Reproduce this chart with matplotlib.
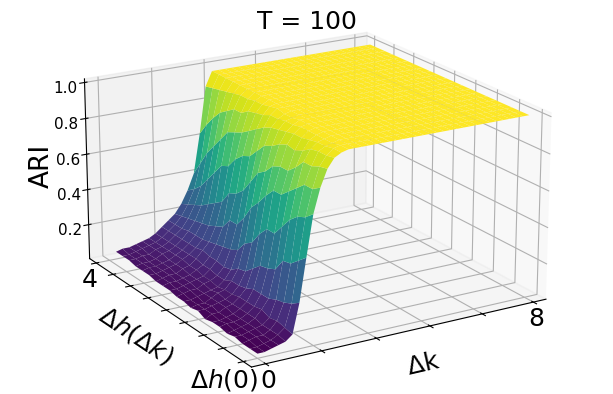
import numpy as np
import matplotlib
matplotlib.use("Agg")
import matplotlib.pyplot as plt
from mpl_toolkits.mplot3d import Axes3D

delta_k_rise = [0.0,0.2,0.4,0.6,0.8,1.0,1.2,1.4,1.6,1.8,2.0,2.2,2.4,2.6,2.8,3.0]
delta_k_plateau = [3.2,3.4,3.6,3.8,4.0,4.2,4.4,4.6,4.8,5.0,5.2,5.4,5.6,5.8,6.0,6.2,6.4,6.6,6.8,7.0,7.2,7.4,7.6,7.8,8.0]
delta_h = [0.0,0.19,0.38,0.57,0.76,0.95,1.14,1.33,1.52,1.71,1.9,2.09,2.28,2.47,2.66,2.85,3.04,3.23,3.42,3.61,3.8]
plateau_ari = 1.0
# rows: delta_h, columns: delta_k_rise
ari_rise = [
[.03,.03,.04,.05,.06,.09,.25,.48,.70,.83,.92,.97,.99,1.0,1.0,1.0],
[.03,.03,.04,.05,.07,.10,.22,.44,.66,.80,.91,.96,.99,1.0,1.0,1.0],
[.03,.04,.05,.05,.07,.11,.20,.40,.64,.80,.89,.96,.98,.99,1.0,1.0],
[.04,.04,.05,.06,.07,.10,.19,.39,.60,.76,.89,.95,.98,.99,1.0,1.0],
[.03,.04,.05,.06,.08,.12,.17,.32,.54,.72,.84,.92,.97,.99,1.0,1.0],
[.04,.05,.05,.06,.08,.11,.17,.30,.48,.68,.80,.90,.96,.99,1.0,1.0],
[.04,.04,.05,.06,.08,.11,.17,.29,.48,.68,.80,.91,.96,.99,1.0,1.0],
[.03,.05,.05,.07,.08,.11,.15,.25,.43,.63,.78,.89,.95,.98,1.0,1.0],
[.05,.05,.06,.07,.08,.10,.14,.21,.36,.57,.73,.86,.94,.98,.99,1.0],
[.04,.05,.05,.07,.09,.10,.14,.20,.33,.52,.70,.84,.93,.97,.99,1.0],
[.05,.05,.06,.07,.08,.09,.12,.17,.27,.44,.63,.79,.91,.97,1.0,1.0],
[.05,.06,.07,.07,.09,.10,.12,.16,.25,.38,.56,.74,.88,.95,.99,1.0],
[.06,.06,.07,.08,.09,.10,.13,.17,.24,.38,.52,.72,.85,.94,.98,1.0],
[.06,.07,.07,.08,.09,.11,.13,.17,.23,.32,.50,.68,.82,.93,.98,1.0],
[.06,.07,.08,.08,.10,.11,.14,.18,.22,.30,.43,.62,.80,.90,.97,1.0],
[.07,.07,.08,.09,.10,.12,.14,.17,.21,.28,.40,.60,.78,.90,.97,1.0],
[.07,.08,.08,.09,.10,.12,.14,.17,.21,.27,.37,.54,.72,.87,.96,1.0],
[.07,.08,.08,.09,.11,.12,.14,.17,.21,.26,.34,.48,.66,.84,.95,1.0],
[.08,.08,.09,.09,.11,.12,.14,.17,.20,.25,.32,.42,.60,.79,.94,1.0],
[.08,.08,.09,.10,.11,.12,.14,.17,.20,.24,.30,.38,.52,.73,.93,1.0],
[.08,.09,.09,.10,.11,.12,.14,.17,.20,.23,.28,.35,.44,.66,.92,1.0],
]

title = "T = 100"
xtick_vals = [0, 1.6, 3.2, 4.8, 6.4, 8]
xtick_labels = ["0", "", "", "", "", "8"]
ytick_vals = [0, .5, 1, 1.5, 2, 2.5, 3, 3.5, 4]
ytick_labels = [r"$\Delta h(0)$    ", "", "", "", "", "", "", "", "4"]
ztick_vals = [0.2, 0.4, 0.6, 0.8, 1.0]

delta_k = np.array(delta_k_rise + delta_k_plateau)
Z = np.hstack([np.array(ari_rise), np.full((len(delta_h), len(delta_k_plateau)), plateau_ari)])
X, Y = np.meshgrid(delta_k, np.array(delta_h))

fig = plt.figure(figsize=(6.13, 3.94), dpi=100)
ax = fig.add_axes([-0.04, -0.127, 1.08, 1.265], projection="3d")
ax.set_box_aspect((4, 4, 2.3), zoom=1.0)
ax.plot_surface(X, Y, Z, cmap="viridis", rstride=1, cstride=1, linewidth=0, antialiased=True)
ax.view_init(elev=19, azim=-121)
ax.set_xlim(-0.4, 8.4); ax.set_ylim(-0.2, 4.2); ax.set_zlim(0.005, 1.02)
ax.set_xticks(xtick_vals); ax.set_xticklabels(xtick_labels, fontsize=18)
ax.set_yticks(ytick_vals); ax.set_yticklabels(ytick_labels, fontsize=18)
ax.set_zticks(ztick_vals); ax.set_zticklabels([f"{v:.1f}" for v in ztick_vals], fontsize=11)
ax.tick_params(axis="x", pad=-5)
ax.tick_params(axis="y", pad=-4)
ax.tick_params(axis="z", pad=0)
ax.set_xlabel(r"$\Delta$k", fontsize=18, labelpad=-1)
ax.set_ylabel(r"$\Delta h(\Delta k)$", fontsize=18, labelpad=-2)
ax.zaxis.set_rotate_label(False)
ax.set_zlabel("ARI", fontsize=19, labelpad=-2, rotation=90)
fig.text(0.5, 0.945, title, ha="center", va="center", fontsize=18)
fig.savefig("out.png", dpi=100)
